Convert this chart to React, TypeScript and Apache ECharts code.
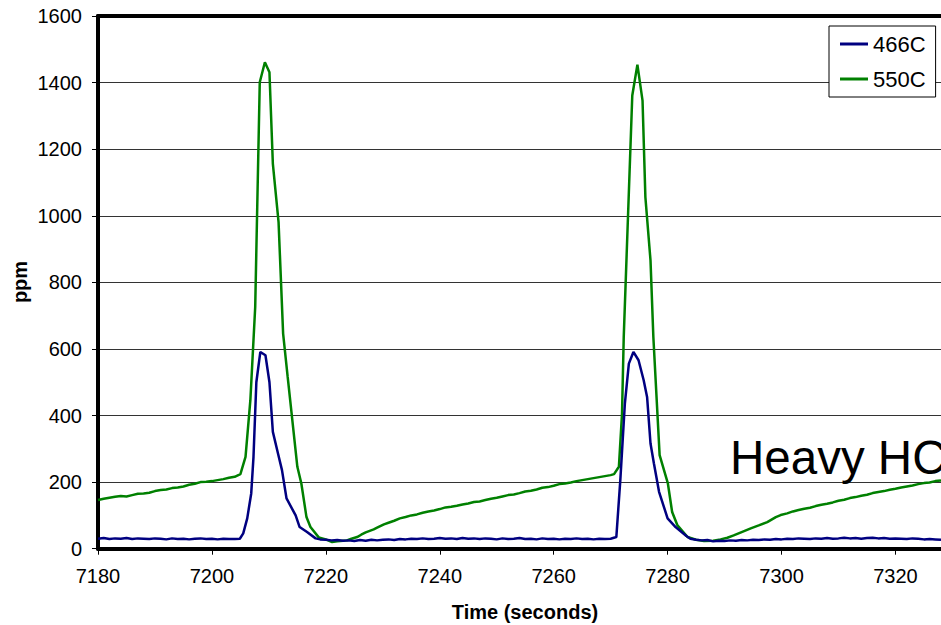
import React, { useEffect, useRef } from "react";
import * as echarts from "echarts";

const FONT = "'Liberation Sans', Arial, sans-serif";

const xTicks = { min: 7180, max: 7328, interval: 20 };
const yTicks = { min: 0, max: 1600, interval: 200 };

const seriesNames = ["466C", "550C"];
const seriesColors = ["#000080", "#008000"];

// [time (s), ppm]
const data466C: [number, number][] = [
  [7180, 30], [7181, 32], [7182, 29], [7183, 31], [7184, 30], [7185, 32], [7186, 29], [7187, 31],
  [7188, 30], [7189, 29], [7190, 31], [7191, 30], [7192, 28], [7193, 31], [7194, 29], [7195, 30],
  [7196, 28], [7197, 30], [7198, 31], [7199, 29], [7200, 30], [7201, 28], [7202, 30], [7203, 29],
  [7204, 29], [7204.9, 30], [7205.5, 46], [7206.2, 91], [7206.9, 166], [7207.3, 276], [7207.8, 500],
  [7208.5, 591], [7209.4, 581], [7210.1, 500], [7210.7, 351], [7211.6, 286], [7212.3, 236],
  [7213.1, 151], [7214.7, 100], [7215.4, 65], [7216.7, 50], [7218.2, 31], [7219, 28], [7220, 27],
  [7221, 25], [7222, 26], [7223, 24], [7224, 25], [7225, 23], [7226, 26], [7227, 24], [7228, 27],
  [7229, 25], [7230, 27], [7231, 28], [7232, 26], [7233, 29], [7234, 28], [7235, 30], [7236, 29],
  [7237, 31], [7238, 29], [7239, 30], [7240, 32], [7241, 30], [7242, 31], [7243, 29], [7244, 32],
  [7245, 30], [7246, 31], [7247, 29], [7248, 31], [7249, 30], [7250, 28], [7251, 31], [7252, 29],
  [7253, 30], [7254, 32], [7255, 29], [7256, 30], [7257, 28], [7258, 31], [7259, 29], [7260, 30],
  [7261, 28], [7262, 30], [7263, 29], [7264, 31], [7265, 29], [7266, 30], [7267, 28], [7268, 30],
  [7269, 29], [7270, 30], [7271, 35], [7271.7, 206], [7272.5, 436], [7273.2, 556], [7274.0, 591],
  [7274.9, 566], [7275.8, 506], [7276.4, 456], [7277.0, 316], [7277.6, 256], [7278.5, 171],
  [7280, 91], [7281.4, 65], [7283.3, 38], [7284, 30], [7285, 27], [7286, 25], [7287, 26], [7288, 22],
  [7289, 24], [7290, 23], [7291, 25], [7292, 24], [7293, 26], [7294, 25], [7295, 27], [7296, 26],
  [7297, 28], [7298, 27], [7299, 29], [7300, 28], [7301, 30], [7302, 29], [7303, 31], [7304, 30],
  [7305, 29], [7306, 31], [7307, 30], [7308, 32], [7309, 30], [7310, 31], [7311, 33], [7312, 31],
  [7313, 32], [7314, 30], [7315, 32], [7316, 33], [7317, 31], [7318, 32], [7319, 30], [7320, 31],
  [7321, 30], [7322, 29], [7323, 31], [7324, 30], [7325, 28], [7326, 29], [7327, 28], [7328, 27],
];

const data550C: [number, number][] = [
  [7180, 146], [7181, 150], [7182, 153], [7183, 156], [7184, 158], [7185, 157], [7186, 161],
  [7187, 165], [7188, 166], [7189, 168], [7190, 173], [7191, 176], [7192, 178], [7193, 182],
  [7194, 184], [7195, 187], [7196, 192], [7197, 195], [7198, 200], [7199, 201], [7200, 203],
  [7201, 206], [7202, 209], [7203, 213], [7204, 216], [7205, 224], [7205.9, 276], [7206.75, 446],
  [7207.6, 726], [7208.4, 1401], [7209.3, 1461], [7210.1, 1431], [7210.7, 1156], [7211.7, 981],
  [7212.5, 646], [7213.3, 516], [7215, 246], [7215.7, 196], [7216.6, 95], [7217.3, 65],
  [7218.75, 34], [7220, 28], [7221.1, 20], [7222, 22], [7223, 24], [7223.7, 25], [7224.5, 30],
  [7225.5, 35], [7226.2, 42], [7227, 49], [7228.4, 58], [7229, 63], [7230.2, 73], [7231, 78],
  [7232, 84], [7233, 91], [7234, 95], [7235, 100], [7236, 103], [7237, 108], [7238, 112],
  [7239, 115], [7240, 119], [7241, 124], [7242, 126], [7243, 129], [7244, 133], [7245, 136],
  [7246, 140], [7247, 142], [7248, 146], [7249, 150], [7250, 153], [7251, 157], [7252, 161],
  [7253, 163], [7254, 167], [7255, 172], [7256, 174], [7257, 178], [7258, 183], [7259, 185],
  [7260, 189], [7261, 194], [7262, 196], [7263, 199], [7264, 203], [7265, 206], [7266, 209],
  [7267, 212], [7268, 215], [7269, 218], [7270, 221], [7270.6, 224], [7271.45, 246], [7272.0, 406],
  [7272.3, 636], [7273.8, 1361], [7274.7, 1454], [7275.6, 1346], [7276.1, 1056], [7277.0, 866],
  [7277.5, 636], [7278.6, 281], [7280.05, 196], [7280.8, 110], [7281.7, 71], [7283.5, 35],
  [7285, 27], [7286.4, 23], [7288, 24], [7289.3, 28], [7290.5, 33], [7291.6, 40], [7293, 50],
  [7294.6, 61], [7296, 70], [7297.5, 80], [7299, 95], [7299.85, 101], [7301, 106], [7302, 112],
  [7303, 116], [7304, 120], [7305, 123], [7306, 128], [7307, 132], [7308, 135], [7309, 139],
  [7310, 144], [7311, 147], [7312, 152], [7313, 155], [7314, 159], [7315, 162], [7316, 167],
  [7317, 170], [7318, 173], [7319, 177], [7320, 180], [7321, 184], [7322, 187], [7323, 190],
  [7324, 194], [7325, 197], [7326, 199], [7327, 203], [7328, 205],
];

const xTitle = "Time (seconds)";
const yTitle = "ppm";
const annotation = "Heavy HC";

export default function App() {
  const ref = useRef<HTMLDivElement>(null);

  useEffect(() => {
    if (!ref.current) return;
    const chart = echarts.init(ref.current, undefined, { renderer: "svg" });
    const axisLine = { show: true, lineStyle: { color: "#000", width: 4 } };
    const plain = (v: number) => String(v);
    chart.setOption({
      animation: false,
      backgroundColor: "#fff",
      textStyle: { fontFamily: FONT },
      grid: { left: 98, top: 16, right: 0, bottom: 76.3, containLabel: false },
      legend: {
        data: seriesNames,
        orient: "vertical",
        left: 829,
        top: 26,
        backgroundColor: "#fff",
        borderColor: "#000",
        borderWidth: 1,
        borderRadius: 0,
        padding: [7, 10, 7, 11],
        itemGap: 13,
        itemWidth: 28,
        itemHeight: 3,
        icon: "rect",
        textStyle: { fontFamily: FONT, fontSize: 22, color: "#000" },
      },
      xAxis: [
        {
          type: "value",
          min: xTicks.min,
          max: xTicks.max,
          interval: xTicks.interval,
          position: "bottom",
          axisLine,
          axisTick: { show: true, length: 6, lineStyle: { color: "#000", width: 1 } },
          axisLabel: {
            margin: 17,
            fontSize: 20,
            color: "#000",
            fontFamily: FONT,
            showMaxLabel: false,
            formatter: plain,
          },
          splitLine: { show: false },
        },
        {
          type: "value",
          min: xTicks.min,
          max: xTicks.max,
          interval: xTicks.interval,
          position: "top",
          axisLine,
          axisTick: { show: false },
          axisLabel: { show: false },
          splitLine: { show: false },
        },
      ],
      yAxis: {
        type: "value",
        min: yTicks.min,
        max: yTicks.max,
        interval: yTicks.interval,
        axisLine,
        axisTick: { show: true, length: 6, lineStyle: { color: "#000", width: 1 } },
        axisLabel: { margin: 16, fontSize: 20, color: "#000", fontFamily: FONT, formatter: plain },
        splitLine: { show: true, lineStyle: { color: "#333", width: 1 } },
      },
      series: [
        {
          name: seriesNames[0],
          type: "line",
          data: data466C,
          xAxisIndex: 0,
          showSymbol: false,
          symbol: "none",
          lineStyle: { color: seriesColors[0], width: 2.5 },
          itemStyle: { color: seriesColors[0] },
          z: 3,
        },
        {
          name: seriesNames[1],
          type: "line",
          data: data550C,
          xAxisIndex: 0,
          showSymbol: false,
          symbol: "none",
          lineStyle: { color: seriesColors[1], width: 2.5 },
          itemStyle: { color: seriesColors[1] },
          z: 2,
        },
      ],
      graphic: [
        {
          type: "text",
          x: 525,
          y: 612,
          style: {
            text: xTitle,
            fontFamily: FONT,
            fontSize: 20,
            fontWeight: "bold",
            fill: "#000",
            align: "center",
            verticalAlign: "middle",
          },
        },
        {
          type: "text",
          x: 20,
          y: 282,
          rotation: Math.PI / 2,
          style: {
            text: yTitle,
            fontFamily: FONT,
            fontSize: 20,
            fontWeight: "bold",
            fill: "#000",
            align: "center",
            verticalAlign: "middle",
          },
        },
        {
          type: "text",
          x: 730,
          y: 457,
          z: 10,
          style: {
            text: annotation,
            fontFamily: FONT,
            fontSize: 47.5,
            fill: "#000",
            align: "left",
            verticalAlign: "middle",
          },
        },
      ],
    });
    return () => chart.dispose();
  }, []);

  return (
    <div
      ref={ref}
      style={{ position: "absolute", left: 0, top: 0, width: 941, height: 625 }}
    />
  );
}
